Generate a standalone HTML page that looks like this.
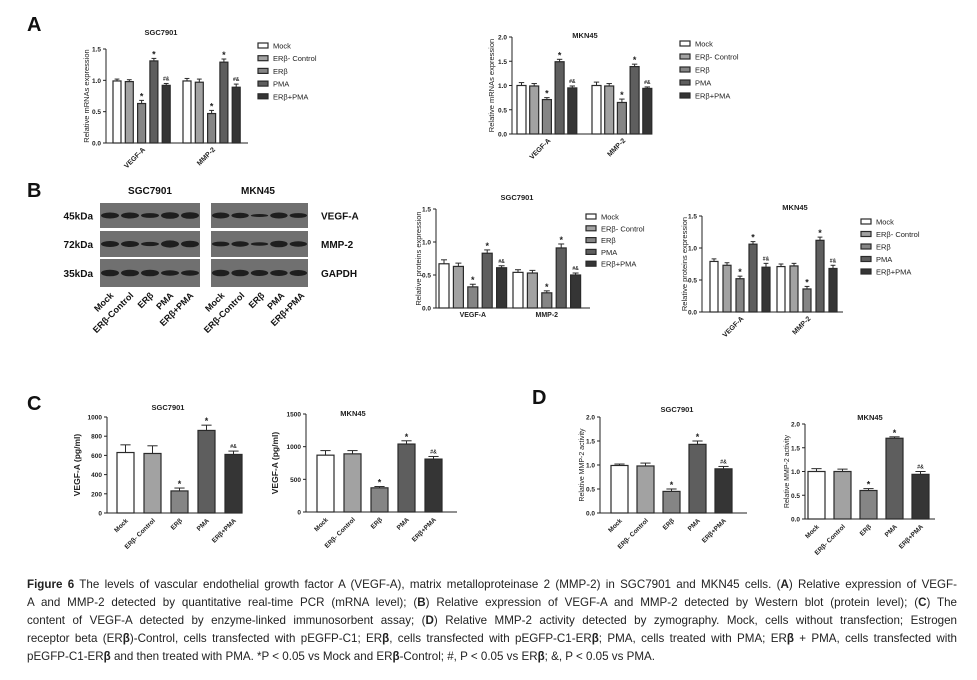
<!DOCTYPE html>
<html><head><meta charset="utf-8">
<style>
body{margin:0;background:#fff;width:977px;height:680px;overflow:hidden;position:relative;font-family:"Liberation Sans",sans-serif}
svg{position:absolute;left:0;top:0}
.cap{position:absolute;left:27px;width:930px;font-size:11.6px;color:#222;line-height:18px;white-space:nowrap}
.j{text-align:justify;text-align-last:justify;white-space:normal;height:18px;overflow:hidden}
</style></head><body>
<svg id="fig" width="977" height="570" viewBox="0 0 977 570" font-family="Liberation Sans, sans-serif"></svg>
<div class="cap j" style="top:576px"><b>Figure 6</b> The levels of vascular endothelial growth factor A (VEGF-A), matrix metalloproteinase 2 (MMP-2) in SGC7901 and MKN45 cells. (<b>A</b>) Relative expression of VEGF-</div>
<div class="cap j" style="top:594px">A and MMP-2 detected by quantitative real-time PCR (mRNA level); (<b>B</b>) Relative expression of VEGF-A and MMP-2 detected by Western blot (protein level); (<b>C</b>) The</div>
<div class="cap j" style="top:612px">content of VEGF-A detected by enzyme-linked immunosorbent assay; (<b>D</b>) Relative MMP-2 activity detected by zymography. Mock, cells without transfection; Estrogen</div>
<div class="cap j" style="top:630px">receptor beta (ER<b>β</b>)-Control, cells transfected with pEGFP-C1; ER<b>β</b>, cells transfected with pEGFP-C1-ER<b>β</b>; PMA, cells treated with PMA; ER<b>β</b> + PMA, cells transfected with</div>
<div class="cap" style="top:648px">pEGFP-C1-ER<b>β</b> and then treated with PMA. *P &lt; 0.05 vs Mock and ER<b>β</b>-Control; #, P &lt; 0.05 vs ER<b>β</b>; &amp;, P &lt; 0.05 vs PMA.</div>
<script>
const groups = ["Mock","ERβ- Control","ERβ","PMA","ERβ+PMA"];
const markers = ["","","*","*","#&"];
const genes = ["VEGF-A","MMP-2"];
const aSgcVegf = [0.99,0.98,0.63,1.31,0.92], aSgcVegfErr=[0.03,0.03,0.05,0.04,0.03];
const aSgcMmp = [0.99,0.97,0.47,1.29,0.89], aSgcMmpErr=[0.04,0.05,0.05,0.05,0.05];
const aMknVegf = [1.0,0.99,0.71,1.49,0.95], aMknVegfErr=[0.06,0.05,0.04,0.05,0.04];
const aMknMmp = [1.0,0.99,0.65,1.39,0.94], aMknMmpErr=[0.07,0.05,0.07,0.05,0.03];
const bSgcVegf = [0.67,0.63,0.32,0.83,0.61], bSgcVegfErr=[0.06,0.05,0.04,0.05,0.03];
const bSgcMmp = [0.54,0.53,0.23,0.91,0.50], bSgcMmpErr=[0.04,0.04,0.03,0.06,0.03];
const bMknVegf = [0.79,0.73,0.52,1.06,0.70], bMknVegfErr=[0.04,0.04,0.04,0.04,0.06];
const bMknMmp = [0.71,0.72,0.36,1.12,0.68], bMknMmpErr=[0.04,0.04,0.04,0.05,0.05];
const cSgc = [630,620,230,860,610], cSgcErr=[80,80,30,55,35];
const cMkn = [870,890,370,1040,810], cMknErr=[70,50,20,50,40];
const dSgc = [0.99,0.98,0.45,1.43,0.92], dSgcErr=[0.03,0.06,0.05,0.07,0.05];
const dMkn = [1.0,1.0,0.60,1.70,0.94], dMknErr=[0.06,0.05,0.04,0.03,0.06];
const fills = ["#ffffff","#a2a2a2","#858585","#5e5e5e","#353535"];
const NS="http://www.w3.org/2000/svg";
const svg=document.getElementById('fig');
function mk(tag,attrs,parent,text){const e=document.createElementNS(NS,tag);for(const k in attrs)e.setAttribute(k,attrs[k]);if(text!==undefined)e.textContent=text;(parent||svg).appendChild(e);return e;}

function chart(o){
  const g=mk('g',{});
  
  
  const ys=v=>o.y0-(v/o.ymax)*(o.y0-o.yTop);
  const t=mk('text',{x:o.tx,y:o.ty,'font-size':7.5,'font-weight':'bold','text-anchor':'middle',fill:'#222'},g,o.title);
  
  mk('line',{x1:o.ax,y1:o.yTop,x2:o.ax,y2:o.y0,stroke:'#222','stroke-width':1},g);
  mk('line',{x1:o.ax,y1:o.y0,x2:o.xEnd,y2:o.y0,stroke:'#222','stroke-width':1},g);
  for(let v=0;v<=o.ymax+1e-9;v+=o.step){
    const y=ys(v);
    mk('line',{x1:o.ax-3,y1:y,x2:o.ax,y2:y,stroke:'#222'},g);
    const tl=mk('text',{x:o.ax-5,y:y+2.5,'font-size':o.fs||6.5,'font-weight':'bold','text-anchor':'end',fill:'#222'},g,o.dec?v.toFixed(1):String(v));
    
  }
  const yl=mk('text',{x:o.ylx,y:(o.y0+o.yTop)/2,'font-size':o.ylfs||7.5,'font-weight':o.ylb?'bold':'normal','text-anchor':'middle',fill:'#222',transform:`rotate(-90 ${o.ylx} ${(o.y0+o.yTop)/2})`},g,o.ylabel);
  
  o.series.forEach((s,gi)=>{
    s.values.forEach((v,i)=>{
      const x=s.x0+i*o.stride, y=ys(v), ey=ys(v+s.errs[i]), cx=x+o.bw/2;
      const r=mk('rect',{x:x,y:y,width:o.bw,height:o.y0-y,fill:fills[i],stroke:'#2a2a2a','stroke-width':1.2},g);
      
      
      mk('line',{x1:cx,y1:y,x2:cx,y2:ey,stroke:'#2a2a2a','stroke-width':1},g);
      mk('line',{x1:cx-o.bw*0.3,y1:ey,x2:cx+o.bw*0.3,y2:ey,stroke:'#2a2a2a','stroke-width':1},g);
      if(markers[i]){
        const star=markers[i]==='*';
        mk('text',{x:cx,y:ey-(star?1:3),'font-size':star?9:5,'font-weight':'bold','text-anchor':'middle',fill:'#222'},g,markers[i]);
      }
      if(o.barLabels){
        const lx=cx+3, ly=o.y0+8;
        const bl=mk('text',{x:lx,y:ly,'font-size':6.5,'font-weight':'bold','text-anchor':'end',fill:'#222',transform:`rotate(-45 ${lx} ${ly})`},g,groups[i]);
        
      }
    });
    if(s.label){
      const gc=s.x0+(4*o.stride+o.bw)/2;
      let gl;
      if(o.rot){gl=mk('text',{x:gc+4,y:o.y0+7,'font-size':7,'font-weight':'bold','text-anchor':'end',fill:'#222',transform:`rotate(-45 ${gc+4} ${o.y0+7})`},g,s.label);}
      else{gl=mk('text',{x:gc,y:o.y0+9,'font-size':7,'font-weight':'bold','text-anchor':'middle',fill:'#222'},g,s.label);}
      
    }
  });
  if(o.legend){
    groups.forEach((n,i)=>{
      const y=o.legend.y+i*o.legend.dy;
      const lg=mk('g',{},g);
      
      mk('rect',{x:o.legend.x,y:y-3,width:10,height:5,fill:fills[i],stroke:'#2a2a2a','stroke-width':1.2},lg);
      mk('text',{x:o.legend.x+15,y:y+2.5,'font-size':7.5,fill:'#222'},lg,n);
    });
  }
}

[["A",27,31],["B",27,197],["C",27,410],["D",532,404]].forEach(p=>{
  const t=mk('text',{x:p[1],y:p[2],'font-size':20,'font-weight':'bold',fill:'#111'},svg,p[0]);
  
});

chart({name:'chart-a-sgc7901',ax:106,y0:143,yTop:49,xEnd:248,ymax:1.5,step:0.5,dec:true,title:'SGC7901',tx:161,ty:35,ylabel:'Relative  mRNAs expression',ylx:89,bw:8,stride:12.3,rot:true,
 series:[{label:genes[0],x0:113,values:aSgcVegf,errs:aSgcVegfErr},{label:genes[1],x0:183,values:aSgcMmp,errs:aSgcMmpErr}],legend:{x:258,y:46,dy:12.7}});
chart({name:'chart-a-mkn45',ax:512,y0:134,yTop:37,xEnd:652,ymax:2.0,step:0.5,dec:true,title:'MKN45',tx:585,ty:38,ylabel:'Relative  mRNAs expression',ylx:494,bw:9,stride:12.7,rot:true,
 series:[{label:genes[0],x0:517,values:aMknVegf,errs:aMknVegfErr},{label:genes[1],x0:592,values:aMknMmp,errs:aMknMmpErr}],legend:{x:680,y:44,dy:13}});
chart({name:'chart-b-sgc7901',ax:436,y0:308,yTop:209,xEnd:590,ymax:1.5,step:0.5,dec:true,title:'SGC7901',tx:517,ty:200,ylabel:'Relative  proteins expression',ylx:421,bw:10,stride:14.4,rot:false,
 series:[{label:genes[0],x0:439,values:bSgcVegf,errs:bSgcVegfErr},{label:genes[1],x0:513,values:bSgcMmp,errs:bSgcMmpErr}],legend:{x:586,y:217,dy:11.8}});
chart({name:'chart-b-mkn45',ax:702,y0:312,yTop:216,xEnd:843,ymax:1.5,step:0.5,dec:true,title:'MKN45',tx:795,ty:210,ylabel:'Relative  proteins expression',ylx:687,bw:8,stride:13,rot:true,
 series:[{label:genes[0],x0:710,values:bMknVegf,errs:bMknVegfErr},{label:genes[1],x0:777,values:bMknMmp,errs:bMknMmpErr}],legend:{x:861,y:222,dy:12.5}});
chart({name:'chart-c-sgc7901',ax:107,y0:513,yTop:417,xEnd:242,ymax:1000,step:200,title:'SGC7901',tx:168,ty:410,ylabel:'VEGF-A (pg/ml)',ylx:80,ylfs:8.5,ylb:true,bw:17,stride:27,barLabels:true,
 series:[{label:'',x0:117,values:cSgc,errs:cSgcErr}]});
chart({name:'chart-c-mkn45',ax:306,y0:512,yTop:414,xEnd:457,ymax:1500,step:500,title:'MKN45',tx:353,ty:416,ylabel:'VEGF-A (pg/ml)',ylx:278,ylfs:8.5,ylb:true,bw:17,stride:27,barLabels:true,
 series:[{label:'',x0:317,values:cMkn,errs:cMknErr}]});
chart({name:'chart-d-sgc7901',ax:600,y0:513,yTop:417,xEnd:747,ymax:2.0,step:0.5,dec:true,title:'SGC7901',tx:677,ty:412,ylabel:'Relative MMP-2 activity',ylx:584,ylfs:7,bw:17,stride:26,barLabels:true,
 series:[{label:'',x0:611,values:dSgc,errs:dSgcErr}]});
chart({name:'chart-d-mkn45',ax:805,y0:519,yTop:424,xEnd:935,ymax:2.0,step:0.5,dec:true,title:'MKN45',tx:870,ty:420,ylabel:'Relative MMP-2 activity',ylx:789,ylfs:7,bw:17,stride:26,barLabels:true,
 series:[{label:'',x0:808,values:dMkn,errs:dMknErr}]});

const blotRows=[["45kDa","VEGF-A",203,228],["72kDa","MMP-2",231,257],["35kDa","GAPDH",259,287]];
const sgcBand=[[1,1,0.8,1.1,1.1],[1,1,0.7,1.2,1.1],[1.1,1.1,1.1,0.9,0.9]];
const mknBand=[[1,0.9,0.5,1,0.8],[0.8,0.9,0.6,1.1,0.9],[1.1,1.1,1,1,1]];
const wb=mk('g',{});


mk('text',{x:150,y:194,'font-size':10,'font-weight':'bold','text-anchor':'middle',fill:'#111'},wb,'SGC7901');
mk('text',{x:258,y:194,'font-size':10,'font-weight':'bold','text-anchor':'middle',fill:'#111'},wb,'MKN45');
blotRows.forEach((r,ri)=>{
  mk('text',{x:93,y:(r[2]+r[3])/2+4,'font-size':10,'font-weight':'bold','text-anchor':'end',fill:'#111'},wb,r[0]);
  mk('text',{x:321,y:(r[2]+r[3])/2+4,'font-size':10,'font-weight':'bold',fill:'#111'},wb,r[1]);
  [[100,200,sgcBand],[211,308,mknBand]].forEach(p=>{
    mk('rect',{x:p[0],y:r[2],width:p[1]-p[0],height:r[3]-r[2],fill:'#707070'},wb);
    const lw=(p[1]-p[0])/5;
    p[2][ri].forEach((k,i)=>{
      mk('ellipse',{cx:p[0]+lw*(i+0.5),cy:(r[2]+r[3])/2,rx:lw*0.45,ry:3*k,fill:'#1e1e1e'},wb);
    });
  });
});
const laneNames=["Mock","ERβ-Control","ERβ","PMA","ERβ+PMA"];
[100,211].forEach(x0=>{
  laneNames.forEach((n,i)=>{
    const lx=x0+20*i+14, ly=296;
    mk('text',{x:lx,y:ly,'font-size':9,'font-weight':'bold','text-anchor':'end',fill:'#111',transform:`rotate(-45 ${lx} ${ly})`},wb,n);
  });
});
</script>
</body></html>
